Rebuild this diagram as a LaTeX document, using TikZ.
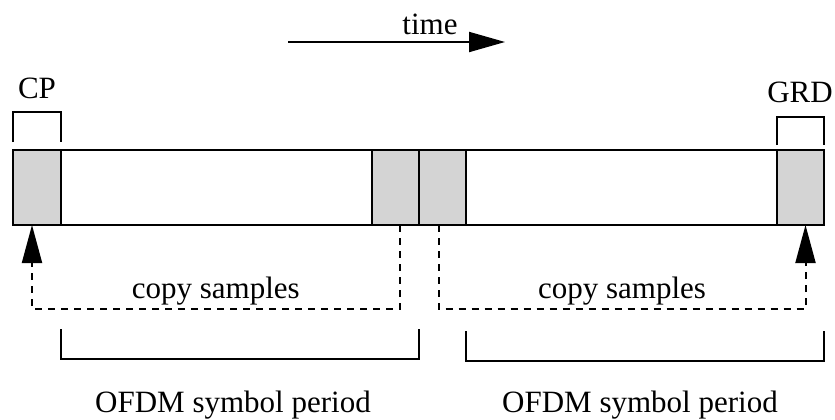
\documentclass[tikz,border=0pt]{standalone}
\usepackage{fontspec}
\setmainfont{Liberation Serif}
\usetikzlibrary{arrows.meta,positioning}

\tikzset{
	seg/.style={draw, line width=1pt, minimum height=37.5pt, inner sep=0pt, outer sep=0pt},
	guard/.style={seg, fill=black!17, minimum width=23.5pt},
	body/.style={seg, fill=white, minimum width=155.5pt},
	copyline/.style={dash pattern=on 3.5pt off 3pt, line width=1pt, ->, >={Triangle[length=19pt,width=10pt]}},
	brace/.style={line width=1pt},
	lbl/.style={font=\fontsize{15.5}{18}\selectfont},
}

\begin{document}
\begin{tikzpicture}[x=0.5pt,y=-0.5pt]
		\useasboundingbox (0,0) rectangle (835,419);

		\coordinate (t0) at (288,42);
		\coordinate (t1) at (505,42);
		\draw [->,>={Triangle[length=18pt,width=10pt]},line width=1pt] (t0) -- (t1);
		\node[lbl] (time) at (430,24) {time};

		\node[guard, minimum width=24pt, anchor=north west] (cp) at (13,150) {};
		\node[body, right=0pt of cp] (body1) {};
		\node[guard, right=0pt of body1] (tail1) {};
		\node[guard, right=0pt of tail1] (cp2) {};
		\node[body, right=0pt of cp2] (body2) {};
		\node[guard, right=0pt of body2] (grd) {};

		\draw [brace] ([yshift=4pt]cp.north west) -- ++(0,-30) -| ([yshift=4pt]cp.north east);
		\node[lbl] (cplbl) at (37,88) {CP};
		\draw [brace] ([yshift=2.5pt]grd.north west) -- ++(0,-28) -| ([yshift=2.5pt]grd.north east);
		\node[lbl] (grdlbl) at (800,92) {GRD};

		\coordinate (src1) at ([xshift=2pt]tail1.south);
		\coordinate (dst1) at ([xshift=-2.5pt]cp.south);
		\draw [copyline] (src1) -- ++(0,84) -| node[pos=0.25, above, lbl, inner sep=1.5pt] (copy1) {copy samples} (dst1);

		\coordinate (src2) at ([xshift=-2pt]cp2.south);
		\coordinate (dst2) at ([xshift=2.5pt]grd.south);
		\draw [copyline] (src2) -- ++(0,84) -| node[pos=0.25, above, lbl, inner sep=1.5pt] (copy2) {copy samples} (dst2);

		\draw [brace] ([yshift=-52pt]cp.south east) -- ++(0,30) -| ([yshift=-52pt]tail1.south east);
		\node[lbl] (period1) at (233,405) {OFDM symbol period};
		\draw [brace] ([yshift=-53pt]cp2.south east) -- ++(0,30) -| ([yshift=-53pt]grd.south east);
		\node[lbl] (period2) at (640,405) {OFDM symbol period};
	\end{tikzpicture}
\end{document}
